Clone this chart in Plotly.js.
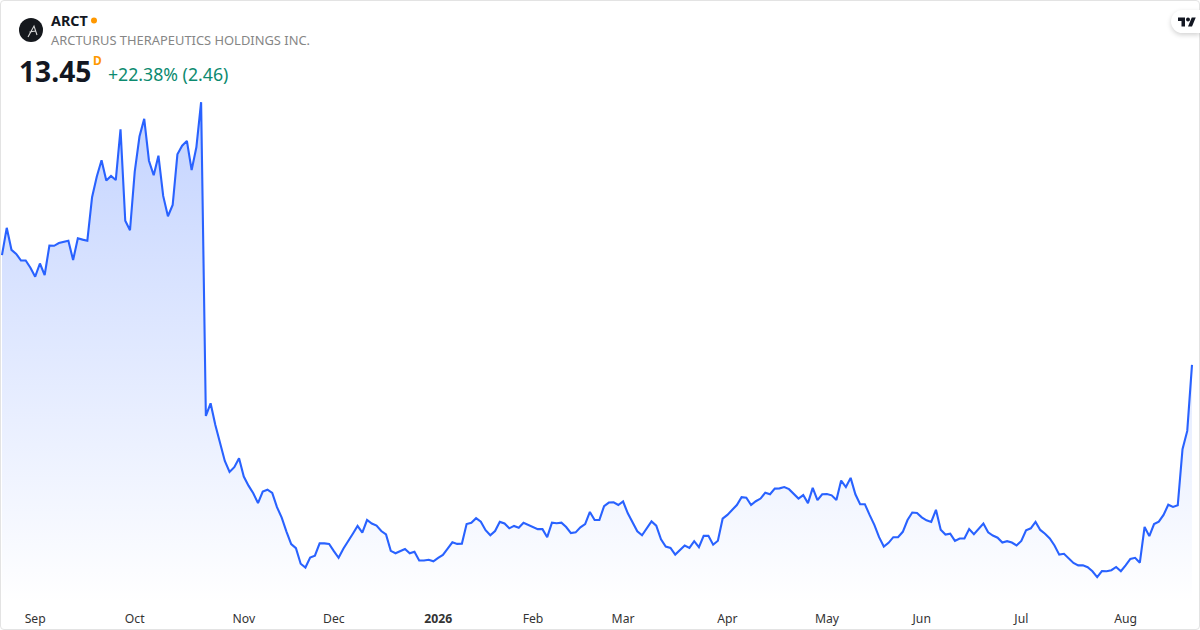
<!DOCTYPE html>
<html>
<head>
<meta charset="utf-8">
<script src="https://cdn.plot.ly/plotly-3.0.1.min.js"></script>
<style>
html,body{margin:0;padding:0;background:#fff;width:1200px;height:630px;overflow:hidden}
#chart{position:absolute;left:0;top:0;width:1200px;height:630px}
#frame{position:absolute;left:0;top:0;width:1198px;height:628px;border:1px solid #e3e3e3;border-radius:4px;pointer-events:none}
#badge{position:absolute;left:1171px;top:10px;width:29px;height:23px;background:#fff;border-radius:12px 0 0 12px;box-shadow:0 2px 5px rgba(0,0,0,.18)}
#badge svg{position:absolute;left:7px;top:6px}
</style>
</head>
<body>
<div id="chart"></div>
<div id="frame"></div>
<div id="badge"><svg width="18" height="12" viewBox="0 2 36 22"><path fill="#131722" d="M14 22H7V11H0V4h14v18zM28 22h-8l7.5-18h8L28 22z"/><circle fill="#131722" cx="20" cy="8" r="4"/></svg></div>
<script>
const symbol = "ARCT";
const company = "ARCTURUS THERAPEUTICS HOLDINGS INC.";
const lastPrice = "13.45";
const change = "+22.38% (2.46)";
const interval = "D";

const prices = [
17.54,18.56,17.74,17.59,17.34,17.34,17.07,16.74,17.23,16.80,
17.90,17.89,17.99,18.03,18.08,17.36,18.17,18.12,18.08,19.70,
20.47,21.08,20.32,20.49,20.34,22.23,18.82,18.47,20.65,21.96,
22.62,21.06,20.52,21.25,19.75,18.99,19.41,21.30,21.62,21.80,
20.71,21.56,23.24,11.55,12.02,11.21,10.59,9.87,9.46,9.64,
9.97,9.29,8.95,8.67,8.30,8.73,8.80,8.68,8.15,7.76,
7.24,6.77,6.62,6.04,5.90,6.27,6.34,6.80,6.80,6.78,
6.51,6.26,6.60,6.86,7.16,7.45,7.20,7.67,7.54,7.46,
7.26,7.13,6.52,6.43,6.52,6.59,6.43,6.49,6.16,6.16,
6.19,6.13,6.26,6.37,6.60,6.84,6.78,6.79,7.52,7.57,
7.74,7.61,7.29,7.10,7.26,7.60,7.54,7.36,7.45,7.38,
7.57,7.49,7.38,7.33,7.33,7.03,7.57,7.55,7.57,7.41,
7.18,7.21,7.40,7.52,7.97,7.67,7.67,8.19,8.32,8.33,
8.23,8.36,7.92,7.59,7.25,7.10,7.36,7.62,7.46,6.95,
6.68,6.63,6.38,6.54,6.72,6.63,6.88,6.66,7.08,7.08,
6.75,6.90,7.72,7.86,8.05,8.23,8.52,8.50,8.23,8.37,
8.47,8.69,8.63,8.84,8.85,8.90,8.82,8.63,8.47,8.60,
8.30,8.87,8.41,8.63,8.64,8.59,8.42,9.14,8.90,9.24,
8.63,8.26,8.26,7.86,7.49,7.03,6.68,6.82,7.03,7.03,
7.23,7.67,7.95,7.93,7.77,7.66,7.60,8.05,7.31,7.13,
7.16,6.89,6.98,6.98,7.33,7.14,7.34,7.54,7.21,7.09,
7.01,6.83,6.88,6.83,6.72,6.89,7.29,7.36,7.60,7.30,
7.16,6.98,6.72,6.38,6.41,6.22,6.07,5.98,5.98,5.91,
5.76,5.54,5.77,5.76,5.80,5.92,5.76,5.98,6.22,6.26,
6.08,7.41,7.07,7.52,7.61,7.86,8.24,8.16,8.22,10.31,
10.99,13.45];
const sessions = prices.map((_, i) => i);
const tickSessions = [7,28,51,70,92,112,131,153,174,194,215,237];
const tickLabels = ["Sep","Oct","Nov","Dec","<b>2026</b>","Feb","Mar","Apr","May","Jun","Jul","Aug"];

const font = '"Noto Sans", "Open Sans", sans-serif';
const px = (v) => v / 1200, py = (v) => 1 - v / 630;
const note = (x, y, text, size, color, extra) => Object.assign({
  xref:'paper', yref:'paper', x:px(x), y:py(y), text, showarrow:false,
  xanchor:'left', yanchor:'middle', align:'left', borderpad:0,
  font:{family:font, size, color}
}, extra || {});

Plotly.newPlot('chart', [{
  x: sessions, y: prices, type:'scatter', mode:'lines',
  line:{color:'#2962FF', width:2.1, shape:'linear'},
  fill:'tozeroy',
  fillgradient:{type:'vertical', start:23.24, stop:4.54,
    colorscale:[[0,'rgba(41,98,255,0.28)'],[1,'rgba(41,98,255,0)']]},
  hoverinfo:'skip'
}], {
  width:1200, height:630,
  margin:{l:0,r:0,t:0,b:0,pad:0},
  paper_bgcolor:'#fff', plot_bgcolor:'#fff',
  showlegend:false,
  xaxis:{domain:[0,1], range:[-0.42,252.69], showgrid:false, zeroline:false, showline:false,
    tickmode:'array', tickvals:tickSessions, ticktext:tickLabels,
    ticks:'outside', ticklen:3, tickwidth:1, tickcolor:'rgba(0,0,0,0)', tickangle:0,
    tickfont:{family:font, size:12.2, color:'#333'}, automargin:false},
  yaxis:{domain:[26/630,1], range:[4.54,27.05], showgrid:false, zeroline:false, showline:false,
    showticklabels:false, ticks:'', automargin:false},
  shapes:[
    {type:'circle', xref:'paper', yref:'paper', x0:px(19), x1:px(43), y0:py(42), y1:py(18),
     fillcolor:'#15181d', line:{width:0}},
    {type:'path', xref:'paper', yref:'paper', line:{color:'#d8d8d8', width:1.1},
     path:`M ${px(28)} ${py(37)} L ${px(34)} ${py(26)} L ${px(37)} ${py(35)} M ${px(29.5)} ${py(32)} L ${px(35.5)} ${py(31)}`},
    {type:'circle', xref:'paper', yref:'paper', x0:px(91), x1:px(97), y0:py(23.5), y1:py(17.5),
     fillcolor:'#ff9800', line:{width:0}}
  ],
  annotations:[
    note(50, 21, `<b>${symbol}</b>`, 14.3, '#131722'),
    note(50, 40.5, company, 12.9, '#868686'),
    note(17.5, 70.5, `<b>${lastPrice}</b>`, 28.2, '#131722'),
    note(92, 61, `<b>${interval}</b>`, 12, '#ff9800'),
    note(107, 74, change, 17.7, '#0c8a6f')
  ]
}, {staticPlot:true, displayModeBar:false});
</script>
</body>
</html>
